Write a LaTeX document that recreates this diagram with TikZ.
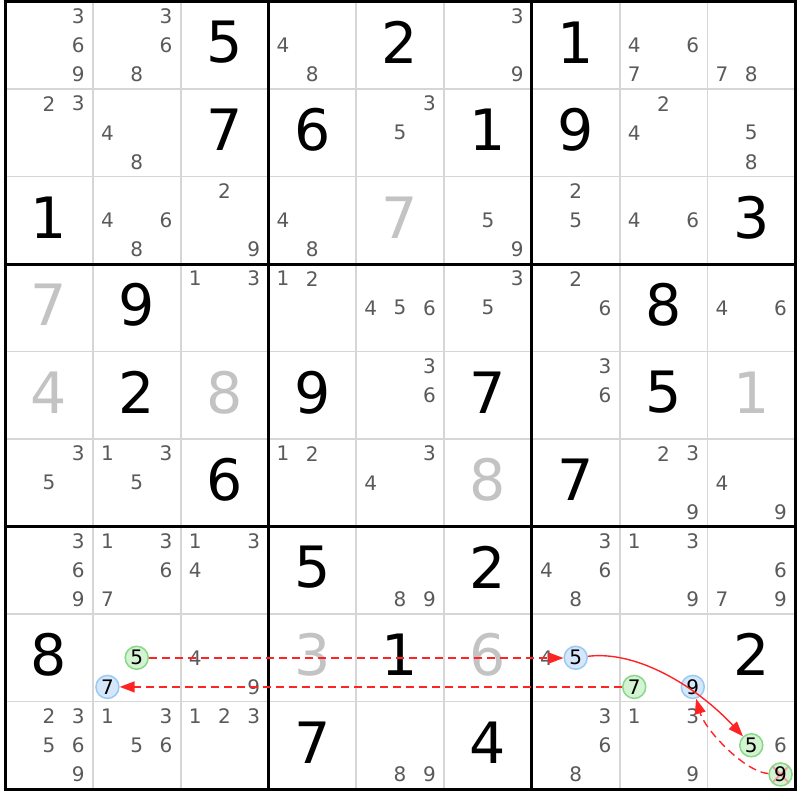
\documentclass[tikz,border=0pt]{standalone}
\usepackage{fontspec}
\setmainfont{DejaVu Sans}
\usetikzlibrary{arrows.meta}
\definecolor{candc}{HTML}{5A5A5A}
\definecolor{solc}{HTML}{C3C3C3}
\definecolor{thinc}{HTML}{D6D6D6}
\definecolor{gfill}{HTML}{D3F3D3}
\definecolor{gdraw}{HTML}{88D888}
\definecolor{bfill}{HTML}{D5E8FB}
\definecolor{bdraw}{HTML}{9BC9F3}
\definecolor{arrc}{HTML}{FF2424}
\definecolor{xcol}{HTML}{F2A0A0}
\tikzset{
  cand/.style={inner sep=0pt, text=candc, font=\fontsize{20}{20}\selectfont},
  given/.style={inner sep=0pt, text=black, font=\fontsize{57}{57}\selectfont},
  solved/.style={given, text=solc},
  gcirc/.style={circle, minimum size=23pt, inner sep=0pt, fill=gfill, draw=gdraw, line width=1.5pt, text=black, font=\fontsize{20}{20}\selectfont},
  bcirc/.style={gcirc, fill=bfill, draw=bdraw},
  xcirc/.style={gcirc, path picture={\draw[xcol, line width=2pt] (path picture bounding box.north west) -- (path picture bounding box.south east) (path picture bounding box.north east) -- (path picture bounding box.south west);}},
  link/.style={draw=arrc, line width=1.4pt, -{Triangle[length=15pt,width=11pt]}},
  weak/.style={link, dash pattern=on 8pt off 5pt},
  thinline/.style={draw=thinc, line width=1.8pt},
  thickline/.style={draw=black, line width=3pt},
}
\newcommand{\cpos}[3]{%
  \pgfmathsetmacro{\cx}{5+#2*87.8+(mod(#3-1,3)+0.5)*87.8/3}%
  \pgfmathsetmacro{\cy}{1.5+#1*87.5+(floor((#3-1)/3)+0.5)*87.5/3}}
\newcommand{\cands}[3]{\foreach \dd in {#3}{\cpos{#1}{#2}{\dd}\node[cand] (c-#1-#2-\dd) at (\cx,\cy) {\dd};}}
\newcommand{\giv}[4][given]{%
  \pgfmathsetmacro{\gx}{5+(#3+0.5)*87.8}%
  \pgfmathsetmacro{\gy}{1.5+(#2+0.5)*87.5-3}%
  \node[#1] (g-#2-#3) at (\gx,\gy) {#4};}
\begin{document}
\begin{tikzpicture}[x=1pt,y=-1pt]
\useasboundingbox (0,0) rectangle (800,800);
\fill[white] (0,0) rectangle (800,800);
% grid
\foreach \i in {1,2,4,5,7,8}{
  \draw[thinline] (5+\i*87.8,1.5) -- (5+\i*87.8,789);
  \draw[thinline] (5,1.5+\i*87.5) -- (795.2,1.5+\i*87.5);
}
\foreach \i in {0,3,6,9}{
  \draw[thickline] (5+\i*87.8,0) -- (5+\i*87.8,790.5);
  \draw[thickline] (3.5,1.5+\i*87.5) -- (796.7,1.5+\i*87.5);
}
% row 0
\cands{0}{0}{3,6,9} \cands{0}{1}{3,6,8} \giv{0}{2}{5} \cands{0}{3}{4,8} \giv{0}{4}{2}
\cands{0}{5}{3,9} \giv{0}{6}{1} \cands{0}{7}{4,6,7} \cands{0}{8}{7,8}
% row 1
\cands{1}{0}{2,3} \cands{1}{1}{4,8} \giv{1}{2}{7} \giv{1}{3}{6} \cands{1}{4}{3,5}
\giv{1}{5}{1} \giv{1}{6}{9} \cands{1}{7}{2,4} \cands{1}{8}{5,8}
% row 2
\giv{2}{0}{1} \cands{2}{1}{4,6,8} \cands{2}{2}{2,9} \cands{2}{3}{4,8} \giv[solved]{2}{4}{7}
\cands{2}{5}{5,9} \cands{2}{6}{2,5} \cands{2}{7}{4,6} \giv{2}{8}{3}
% row 3
\giv[solved]{3}{0}{7} \giv{3}{1}{9} \cands{3}{2}{1,3} \cands{3}{3}{1,2} \cands{3}{4}{4,5,6}
\cands{3}{5}{3,5} \cands{3}{6}{2,6} \giv{3}{7}{8} \cands{3}{8}{4,6}
% row 4
\giv[solved]{4}{0}{4} \giv{4}{1}{2} \giv[solved]{4}{2}{8} \giv{4}{3}{9} \cands{4}{4}{3,6}
\giv{4}{5}{7} \cands{4}{6}{3,6} \giv{4}{7}{5} \giv[solved]{4}{8}{1}
% row 5
\cands{5}{0}{3,5} \cands{5}{1}{1,3,5} \giv{5}{2}{6} \cands{5}{3}{1,2} \cands{5}{4}{3,4}
\giv[solved]{5}{5}{8} \giv{5}{6}{7} \cands{5}{7}{2,3,9} \cands{5}{8}{4,9}
% row 6
\cands{6}{0}{3,6,9} \cands{6}{1}{1,3,6,7} \cands{6}{2}{1,3,4} \giv{6}{3}{5} \cands{6}{4}{8,9}
\giv{6}{5}{2} \cands{6}{6}{3,4,6,8} \cands{6}{7}{1,3,9} \cands{6}{8}{6,7,9}
% row 7
\giv{7}{0}{8} \cands{7}{2}{4,9} \giv[solved]{7}{3}{3} \giv{7}{4}{1} \giv[solved]{7}{5}{6}
\cands{7}{6}{4} \giv{7}{8}{2}
% row 8
\cands{8}{0}{2,3,5,6,9} \cands{8}{1}{1,3,5,6} \cands{8}{2}{1,2,3} \giv{8}{3}{7} \cands{8}{4}{8,9}
\giv{8}{5}{4} \cands{8}{6}{3,6,8} \cands{8}{7}{1,3,9} \cands{8}{8}{6}
% highlighted candidates
\cpos{7}{1}{5}\node[gcirc] (a1) at (\cx,\cy) {5};
\cpos{7}{6}{5}\node[bcirc] (a2) at (\cx,\cy) {5};
\cpos{7}{1}{7}\node[bcirc] (a3) at (\cx,\cy) {7};
\cpos{7}{7}{7}\node[gcirc] (a4) at (\cx,\cy) {7};
\cpos{7}{7}{9}\node[bcirc] (a5) at (\cx,\cy) {9};
\cpos{8}{8}{5}\node[gcirc] (a6) at (\cx,\cy) {5};
\cpos{8}{8}{9}\node[xcirc] (a7) at (\cx,\cy) {9};
% links
\draw[weak] (a4.west) -- (a3.east);
\draw[weak] ([yshift=-0.3pt]a1.east) -- ([yshift=-0.3pt]a2.west);
\draw[link] (a2) .. controls (640,650) and (700,690) .. (a6);
\draw[weak] (a7) .. controls (745,772) and (705,730) .. (a5);
\end{tikzpicture}
\end{document}
